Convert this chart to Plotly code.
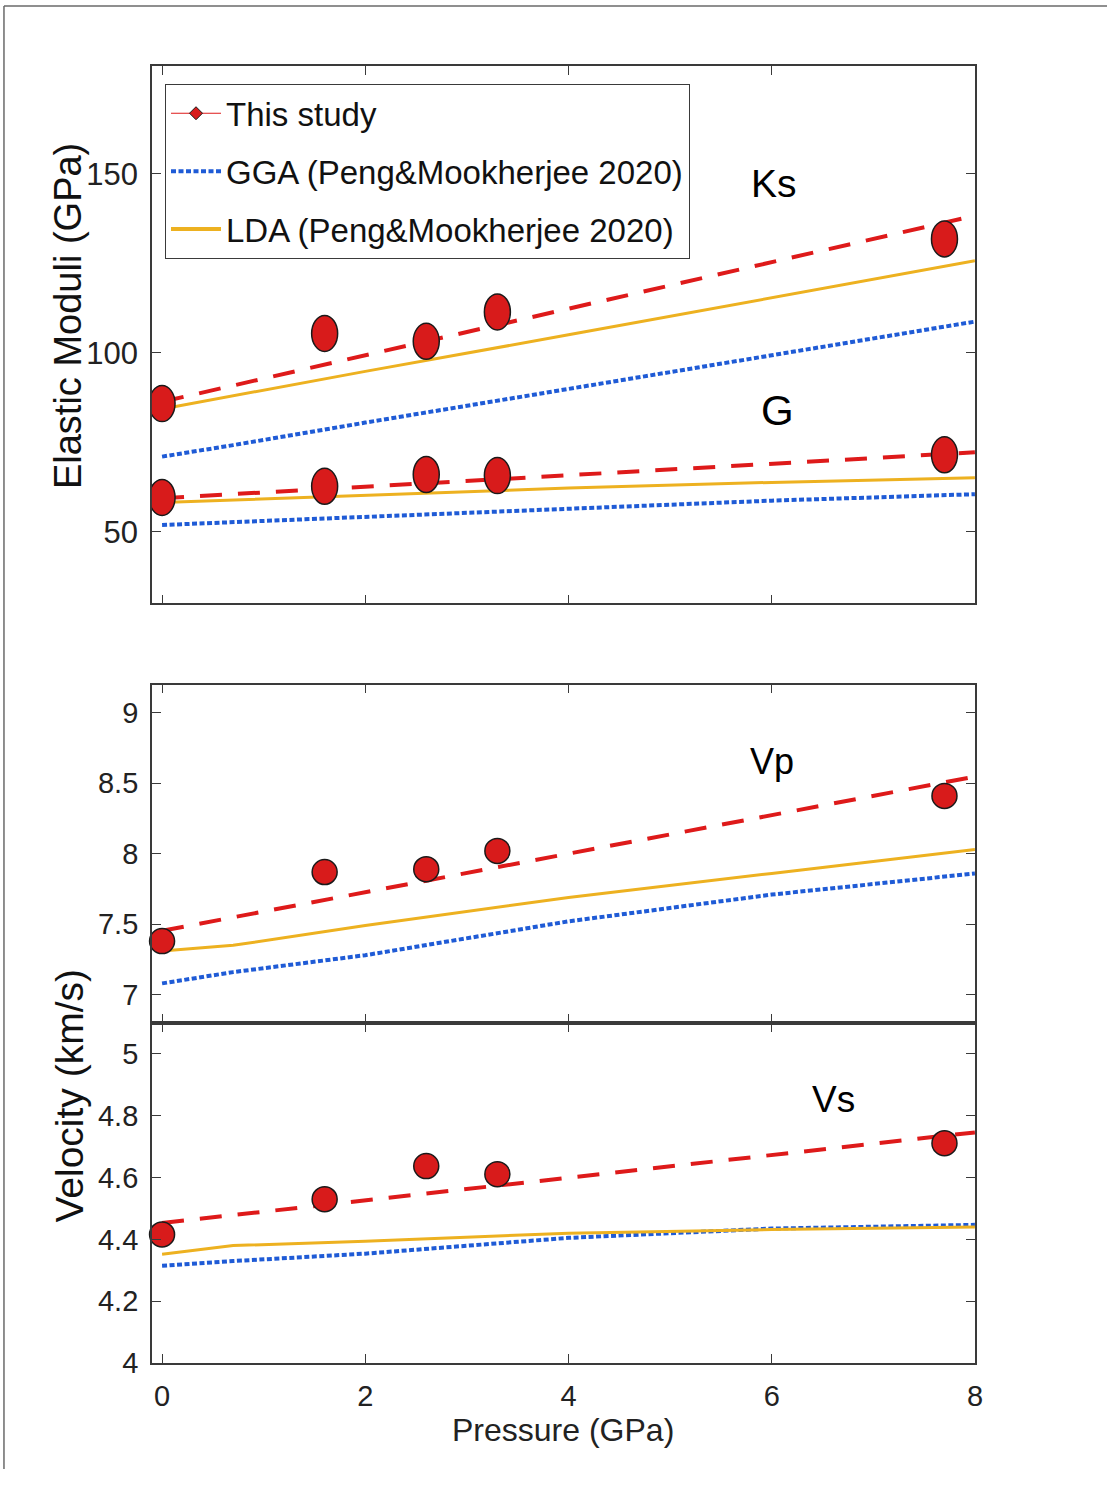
import plotly.graph_objects as go

# ---------------- data ----------------
# measured points (pressure in GPa)
P_EXP = [0.0, 1.6, 2.6, 3.3, 7.7]
KS_EXP = [85.8, 105.4, 103.2, 111.4, 131.8]
G_EXP = [59.6, 62.7, 66.0, 65.7, 71.5]
VP_EXP = [7.38, 7.87, 7.89, 8.02, 8.41]
VS_EXP = [4.416, 4.530, 4.637, 4.611, 4.711]

# linear fits to the measurements
P_FIT = [0.0, 8.0]
KS_FIT = [86.3, 138.3]
G_FIT = [59.4, 72.2]
VP_FIT = [7.453, 8.547]
VS_FIT = [4.453, 4.746]

# first-principles curves (Peng & Mookherjee 2020)
P_DFT = [0.0, 0.7, 2.0, 4.0, 6.0, 8.0]
KS_LDA = [84.3, 88.0, 94.8, 105.0, 115.4, 125.7]
KS_GGA = [71.0, 74.2, 80.5, 90.0, 99.3, 108.7]
G_LDA = [58.2, 58.9, 60.3, 62.2, 63.8, 65.1]
G_GGA = [51.9, 52.7, 54.1, 56.6, 58.7, 60.5]
VP_LDA = [7.31, 7.35, 7.49, 7.69, 7.86, 8.03]
VP_GGA = [7.08, 7.16, 7.28, 7.52, 7.71, 7.86]
VS_LDA = [4.352, 4.380, 4.394, 4.420, 4.432, 4.440]
VS_GGA = [4.315, 4.330, 4.354, 4.405, 4.435, 4.447]

X_TICKS = [0, 2, 4, 6, 8]
MOD_TICKS = [50, 100, 150]
VP_TICKS = [7, 7.5, 8, 8.5, 9]
VP_TICKTEXT = ["7", "7.5", "8", "8.5", "9"]
VS_TICKS = [4, 4.2, 4.4, 4.6, 4.8, 5]
VS_TICKTEXT = ["4", "4.2", "4.4", "4.6", "4.8", "5"]

LEG_STUDY = "This study"
LEG_GGA = "GGA (Peng&Mookherjee 2020)"
LEG_LDA = "LDA (Peng&Mookherjee 2020)"

# ---------------- styling ----------------
W, H = 1115, 1485
RED = "#DE1A1A"
MARK_RED = "#D81B1B"
BLUE = "#1F5BD6"
GOLD = "#EDB120"
FRAME = "#3a3a3a"
SANS = "Liberation Sans, Arial, Helvetica, sans-serif"

FIT_DASH = "22px,16px"
GGA_DASH = "5px,2.5px"


def px_x(p):
    return p / W


def px_y(p):
    return 1 - p / H


X_DOM = [px_x(153), px_x(982)]
DOM_TOP = [px_y(610), px_y(67)]
DOM_MID = [px_y(1034), px_y(692)]
DOM_BOT = [px_y(1378), px_y(1034)]

fig = go.Figure()


def add_panel(xa, ya, fit, lda, gga, exp=None):
    fig.add_trace(go.Scatter(x=P_DFT, y=gga, mode="lines", xaxis=xa, yaxis=ya,
                             line=dict(color=BLUE, width=4, dash=GGA_DASH),
                             showlegend=False, hoverinfo="skip"))
    fig.add_trace(go.Scatter(x=P_DFT, y=lda, mode="lines", xaxis=xa, yaxis=ya,
                             line=dict(color=GOLD, width=3),
                             showlegend=False, hoverinfo="skip"))
    fig.add_trace(go.Scatter(x=P_FIT, y=fit, mode="lines", xaxis=xa, yaxis=ya,
                             line=dict(color=RED, width=4, dash=FIT_DASH),
                             showlegend=False, hoverinfo="skip"))
    if exp is not None:
        fig.add_trace(go.Scatter(x=P_EXP, y=exp, mode="markers", xaxis=xa, yaxis=ya,
                                 marker=dict(color=MARK_RED, size=25,
                                             line=dict(color="#1a1a1a", width=1.5)),
                                 cliponaxis=False, showlegend=False))


# top panel: bulk (Ks) and shear (G) moduli
add_panel("x", "y", KS_FIT, KS_LDA, KS_GGA)
add_panel("x", "y", G_FIT, G_LDA, G_GGA)

# moduli measurements drawn as tall ellipses anchored at the data values
shapes = []
for series in (KS_EXP, G_EXP):
    for p, v in zip(P_EXP, series):
        shapes.append(dict(type="circle", xref="x", yref="y",
                           xsizemode="pixel", ysizemode="pixel",
                           xanchor=p, yanchor=v, x0=-13, x1=13, y0=-18, y1=18,
                           fillcolor=MARK_RED, line=dict(color="#1a1a1a", width=1.5),
                           layer="above"))

# velocity panels
add_panel("x2", "y2", VP_FIT, VP_LDA, VP_GGA, VP_EXP)
add_panel("x3", "y3", VS_FIT, VS_LDA, VS_GGA, VS_EXP)

# legend entries
fig.add_trace(go.Scatter(x=[None], y=[None], mode="lines+markers", name=LEG_STUDY,
                         line=dict(color=RED, width=1.2),
                         marker=dict(color=MARK_RED, size=10, symbol="diamond",
                                     line=dict(color="#1a1a1a", width=1)),
                         legendgroup="a", legendrank=1))
fig.add_trace(go.Scatter(x=[None], y=[None], mode="lines", name=LEG_GGA,
                         line=dict(color=BLUE, width=4, dash=GGA_DASH),
                         legendgroup="b", legendrank=2))
fig.add_trace(go.Scatter(x=[None], y=[None], mode="lines", name=LEG_LDA,
                         line=dict(color=GOLD, width=4),
                         legendgroup="c", legendrank=3))

common_x = dict(range=[-0.1, 8], tickvals=X_TICKS, ticks="inside", ticklen=9,
                tickcolor=FRAME, tickwidth=1.2, showline=True, linecolor=FRAME,
                linewidth=1.6, mirror="ticks", showgrid=False, zeroline=False,
                domain=X_DOM)
common_y = dict(ticks="inside", ticklen=9, tickcolor=FRAME, tickwidth=1.2,
                showline=True, linecolor=FRAME, linewidth=1.6, mirror="ticks",
                showgrid=False, zeroline=False, ticklabelstandoff=6)

ann = dict(xref="paper", yref="paper", showarrow=False,
           xanchor="center", yanchor="middle")

fig.update_layout(
    width=W, height=H,
    margin=dict(l=0, r=0, t=0, b=0),
    paper_bgcolor="white", plot_bgcolor="white",
    xaxis=dict(common_x, anchor="y", showticklabels=False),
    xaxis2=dict(common_x, anchor="y2", showticklabels=False),
    xaxis3=dict(common_x, anchor="y3",
                tickfont=dict(family=SANS, size=29, color="#222"),
                ticklabelstandoff=6),
    yaxis=dict(common_y, domain=DOM_TOP, anchor="x", range=[30, 180],
               tickvals=MOD_TICKS,
               tickfont=dict(family=SANS, size=31, color="#222")),
    yaxis2=dict(common_y, domain=DOM_MID, anchor="x2", range=[6.8, 9.2],
                tickvals=VP_TICKS, ticktext=VP_TICKTEXT,
                tickfont=dict(family=SANS, size=29, color="#222")),
    yaxis3=dict(common_y, domain=DOM_BOT, anchor="x3", range=[4.0, 5.1],
                tickvals=VS_TICKS, ticktext=VS_TICKTEXT,
                tickfont=dict(family=SANS, size=29, color="#222")),
    legend=dict(x=px_x(166), y=px_y(85), xanchor="left", yanchor="top",
                bgcolor="white", bordercolor=FRAME, borderwidth=1.2,
                font=dict(family=SANS, size=33, color="#111"),
                itemwidth=50, tracegroupgap=12, traceorder="grouped"),
    shapes=shapes + [
        dict(type="line", xref="paper", yref="paper", x0=px_x(4), x1=1,
             y0=px_y(6), y1=px_y(6), line=dict(color="#6a6a6a", width=1.5)),
        dict(type="line", xref="paper", yref="paper", x0=px_x(4), x1=px_x(4),
             y0=px_y(6), y1=0, line=dict(color="#6a6a6a", width=1.5)),
    ],
    annotations=[
        dict(ann, text="Elastic Moduli (GPa)", x=px_x(68), y=px_y(320),
             textangle=-90, font=dict(family=SANS, size=38, color="#111")),
        dict(ann, text="Velocity (km/s)", x=px_x(70), y=px_y(1107),
             textangle=-90, font=dict(family=SANS, size=39, color="#111")),
        dict(ann, text="Pressure (GPa)", x=px_x(567), y=px_y(1446),
             font=dict(family=SANS, size=32, color="#222")),
        dict(ann, text="Ks", x=px_x(780), y=px_y(186),
             font=dict(family=SANS, size=39, color="#000")),
        dict(ann, text="G", x=px_x(783), y=px_y(415),
             font=dict(family=SANS, size=42, color="#000")),
        dict(ann, text="Vp", x=px_x(778), y=px_y(770),
             font=dict(family=SANS, size=36, color="#000")),
        dict(ann, text="Vs", x=px_x(840), y=px_y(1111),
             font=dict(family=SANS, size=37, color="#000")),
    ],
)

fig.write_html("out.html")
